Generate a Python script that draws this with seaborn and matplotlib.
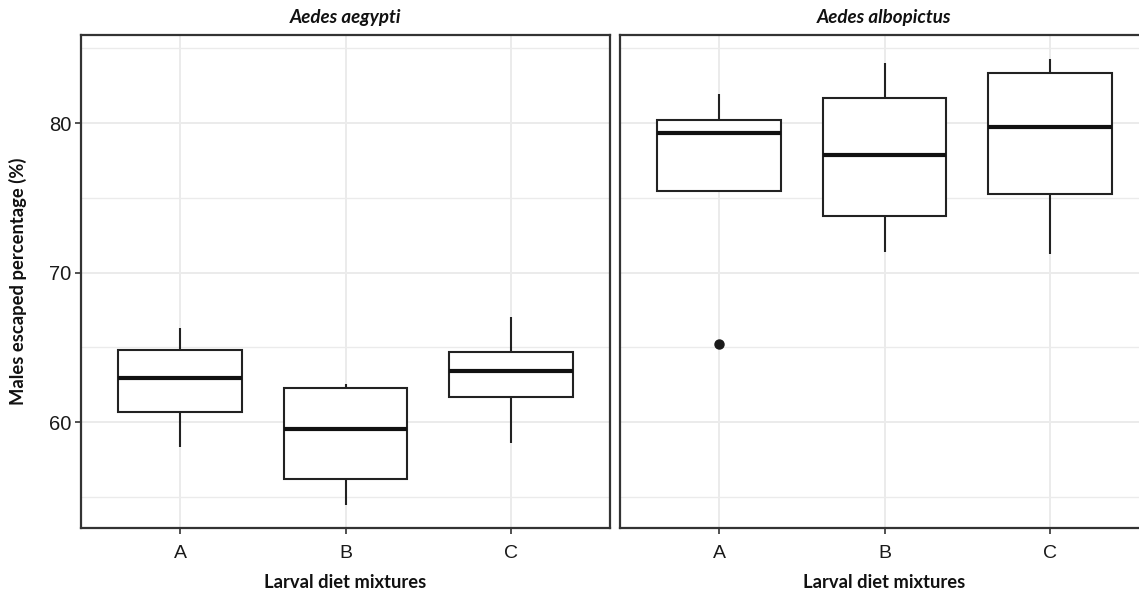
import matplotlib
matplotlib.use("Agg")
import matplotlib.pyplot as plt
import seaborn as sns
import pandas as pd
import numpy as np

# ---- data ----
categories = ["A", "B", "C"]
species = ["Aedes aegypti", "Aedes albopictus"]

aegypti_A = [58.35, 60.70, 62.96, 64.82, 66.27]
aegypti_B = [54.45, 56.20, 59.53, 62.30, 62.52]
aegypti_C = [58.62, 61.69, 63.43, 64.68, 67.00]

albopictus_A = [65.20, 75.47, 79.31, 80.20, 81.94]
albopictus_B = [71.35, 73.80, 77.84, 81.65, 83.99]
albopictus_C = [71.22, 75.23, 79.76, 83.32, 84.26]

y_ticks = [60, 70, 80]
y_minor = [55, 65, 75, 85]

rows = []
for sp, groups in zip(species, [[aegypti_A, aegypti_B, aegypti_C],
                                [albopictus_A, albopictus_B, albopictus_C]]):
    for cat, vals in zip(categories, groups):
        for v in vals:
            rows.append({"species": sp, "diet": cat, "value": v})
df = pd.DataFrame(rows)

sns.set_theme(style="white")
plt.rcParams["font.family"] = ["Liberation Sans", "DejaVu Sans"]

W, H = 1139, 597
fig = plt.figure(figsize=(W / 100, H / 100), dpi=100)
fig.patch.set_facecolor("white")

top, bottom = 35, 528
panel_w = 529
lefts = [81, 620]
ylim = (52.91, 85.89)
line_col = "#333333"
label_font = ["Lato", "DejaVu Sans"]

axes = []
for i, sp in enumerate(species):
    ax = fig.add_axes([lefts[i] / W, (H - bottom) / H, panel_w / W, (bottom - top) / H])
    axes.append(ax)
    sub = df[df["species"] == sp]
    sns.boxplot(data=sub, x="diet", y="value", order=categories, ax=ax,
                width=0.75, color="white", linewidth=1.5, linecolor="#222222",
                whis=1.5,
                boxprops=dict(facecolor="white", edgecolor="#222222", linewidth=1.5, zorder=3),
                whiskerprops=dict(color="#222222", linewidth=1.5, zorder=3),
                capprops=dict(linewidth=0),
                medianprops=dict(color="#111111", linewidth=3, zorder=4),
                flierprops=dict(marker="o", markerfacecolor="#1a1a1a",
                                markeredgecolor="#1a1a1a", markersize=6.5, zorder=5))
    ax.set_xlim(-0.6, 2.6)
    ax.set_ylim(*ylim)
    ax.set_yticks(y_ticks)
    ax.set_yticks(y_minor, minor=True)
    ax.set_facecolor("white")
    ax.grid(True, which="major", axis="both", color="#EBEBEB", linewidth=1.4, zorder=0)
    ax.grid(True, which="minor", axis="y", color="#EBEBEB", linewidth=1.0, zorder=0)
    ax.set_axisbelow(True)
    for s in ax.spines.values():
        s.set_visible(True)
        s.set_color(line_col)
        s.set_linewidth(1.6)
    ax.tick_params(axis="x", which="major", length=4, width=1.2, color=line_col,
                   labelsize=14, labelcolor="#1a1a1a", pad=8, bottom=True)
    ax.tick_params(axis="y", which="minor", length=0)
    if i == 0:
        ax.tick_params(axis="y", which="major", length=4, width=1.2, color=line_col,
                       labelsize=14.5, labelcolor="#1a1a1a", pad=3, left=True)
        ax.set_ylabel("Males escaped percentage (%)", fontsize=13.2, fontweight="bold",
                      family=label_font, color="#111111")
        ax.yaxis.set_label_coords(-0.103, 0.5)
    else:
        ax.tick_params(axis="y", which="major", length=0, labelleft=False)
        ax.set_ylabel("")
    ax.set_xlabel("Larval diet mixtures", fontsize=13.2, fontweight="bold",
                  family=label_font, color="#111111")
    ax.xaxis.set_label_coords(0.5, -0.093)
    ax.set_title(sp, fontsize=13.5, fontweight="bold", style="italic",
                 family=label_font, color="#111111", pad=9)

fig.savefig("out.png", dpi=100, facecolor="white")
